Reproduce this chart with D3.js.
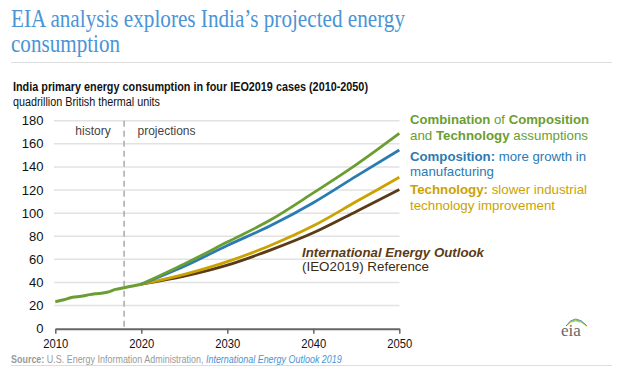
<!DOCTYPE html>
<html><head><meta charset="utf-8">
<script src="https://cdn.jsdelivr.net/npm/d3@7"></script>
<style>body{margin:0;background:#fff}svg{display:block}</style>
</head><body>
<svg id="c" width="639" height="369"></svg>
<script>
// ---- data ----
const historyYears = [2010,2011,2012,2013,2014,2015,2016,2017,2018,2019,2020];
const historyValues = [23.4,25,27.3,28,29.5,30.5,31.5,34,35.5,37,38.5];
const projYears = [2020,2025,2030,2035,2040,2045,2050];
const reference = [38.5,45.5,55,68,83,101.5,120.5];
const technology = [38.5,47,58,72,89,110,131];
const composition = [38.5,54,72,89,109,132,154.6];
const combination = [38.5,56,75,94,117.5,142,169];
const yTicks = [0,20,40,60,80,100,120,140,160,180];
const xTicks = [2010,2020,2030,2040,2050];

const C = {green:"#6a9e31", blue:"#2b7bb3", gold:"#cca200", brown:"#5b3b15"};

const svg = d3.select("#c");
const x = d3.scaleLinear().domain([2010,2050]).range([55.3,399.3]);
const y = d3.scaleLinear().domain([0,180]).range([328.7,120.7]);

// title
svg.append("text").attr("x",11).attr("y",27).attr("font-family","Liberation Serif, Times New Roman, serif")
  .attr("font-size",25).attr("fill","#4a94d6").attr("textLength",394).attr("lengthAdjust","spacingAndGlyphs")
  .text("EIA analysis explores India’s projected energy");
svg.append("text").attr("x",11).attr("y",52).attr("font-family","Liberation Serif, Times New Roman, serif")
  .attr("font-size",25).attr("fill","#4a94d6").attr("textLength",109).attr("lengthAdjust","spacingAndGlyphs")
  .text("consumption");
svg.append("line").attr("x1",11).attr("x2",612).attr("y1",62.5).attr("y2",62.5).attr("stroke","#ddd").attr("stroke-width",1);

const sans = "Liberation Sans, Arial, sans-serif";
svg.append("text").attr("x",13).attr("y",91).attr("font-family",sans).attr("font-weight","bold").attr("font-size",12.5)
  .attr("fill","#111").attr("textLength",355).attr("lengthAdjust","spacingAndGlyphs")
  .text("India primary energy consumption in four IEO2019 cases (2010-2050)");
svg.append("text").attr("x",13).attr("y",105.5).attr("font-family",sans).attr("font-size",12.5)
  .attr("fill","#111").attr("textLength",147).attr("lengthAdjust","spacingAndGlyphs")
  .text("quadrillion British thermal units");

// grid
svg.append("g").selectAll("line").data(yTicks.filter(d=>d>0)).join("line")
  .attr("x1",54).attr("x2",399.5).attr("y1",d=>y(d)).attr("y2",d=>y(d))
  .attr("stroke","#e2e2e2").attr("stroke-width",1.5);

// y labels
svg.append("g").selectAll("text").data(yTicks).join("text")
  .attr("x",43.5).attr("y",d=>y(d)+4.5).attr("text-anchor","end")
  .attr("font-family",sans).attr("font-size",13).attr("fill","#111").text(d=>d);

// x axis
const xAxis = d3.axisBottom(x).tickValues(xTicks).tickFormat(d3.format("d")).tickSize(5).tickSizeOuter(0);
const gx = svg.append("g").attr("transform",`translate(0,${y(0)})`).call(xAxis);
gx.select(".domain").attr("stroke","#666").attr("stroke-width",2);
gx.selectAll(".tick line").attr("stroke","#666").attr("stroke-width",1.5);
gx.selectAll(".tick text").attr("font-family",sans).attr("font-size",13.5).attr("fill","#111")
  .attr("y",7).attr("dy","0.9em").attr("textLength",25).attr("lengthAdjust","spacingAndGlyphs");

// dashed history line
svg.append("line").attr("x1",x(2018)).attr("x2",x(2018)).attr("y1",y(180)).attr("y2",y(0))
  .attr("stroke","#aaa").attr("stroke-width",1.5).attr("stroke-dasharray","6,4");
svg.append("text").attr("x",93).attr("y",135).attr("text-anchor","middle").attr("font-family",sans).attr("font-size",12)
  .attr("fill","#444").text("history");
svg.append("text").attr("x",137.5).attr("y",135).attr("font-family",sans).attr("font-size",12)
  .attr("fill","#444").text("projections");

// lines
const line = d3.line().x(d=>x(d[0])).y(d=>y(d[1])).curve(d3.curveMonotoneX);
const series = [
  {vals:reference,color:C.brown},
  {vals:technology,color:C.gold},
  {vals:composition,color:C.blue},
  {vals:combination,color:C.green}
];
series.forEach(s=>{
  svg.append("path").datum(d3.zip(projYears,s.vals)).attr("d",line)
    .attr("fill","none").attr("stroke",s.color).attr("stroke-width",2.8).attr("stroke-linejoin","round");
});
svg.append("path").datum(d3.zip(historyYears,historyValues)).attr("d",line)
  .attr("fill","none").attr("stroke",C.green).attr("stroke-width",3).attr("stroke-linejoin","round");

// labels
function label(xp, yp, parts, color, len){
  const t = svg.append("text").attr("x",xp).attr("y",yp).attr("font-family",sans).attr("font-size",13).attr("fill",color);
  if(len) t.attr("textLength",len).attr("lengthAdjust","spacingAndGlyphs");
  parts.forEach(p=>{
    const ts=t.append("tspan").text(p[0]);
    if(p[1]) ts.attr("font-weight","bold");
    if(p[2]) ts.attr("font-style","italic");
  });
}
label(410,124,[["Combination",1],[" of "],["Composition",1]],C.green,179);
label(410,139.5,[["and "],["Technology",1],[" assumptions"]],C.green,178);
label(410,161,[["Composition:",1],[" more growth in"]],C.blue,176);
label(410,175.5,[["manufacturing"]],C.blue,84);
label(410,193.5,[["Technology:",1],[" slower industrial"]],C.gold,177);
label(410,209.5,[["technology improvement"]],C.gold,145);
label(302,256.5,[["International Energy Outlook",1,1]],C.brown,182);
label(302,271,[["(IEO2019) Reference"]],"#3a2a10",127);

// eia logo
const lg = svg.append("g");
lg.append("text").attr("x",561).attr("y",336).attr("font-family","Liberation Serif, Times New Roman, serif")
  .attr("font-size",17).attr("fill","#666").text("eia");
const arc = (r,col)=>lg.append("path").attr("d",`M${566} ${326} Q ${575} ${316-r} ${587} ${326}`)
  .attr("fill","none").attr("stroke",col).attr("stroke-width",1);
arc(0,"#f0c020"); arc(2,"#8bbf3f"); arc(4,"#3a9ad9");

// source: one text, condensed horizontally to the reference width
const src = svg.append("text").attr("font-family",sans).attr("font-size",10.5).attr("fill","#9a9a9a");
src.append("tspan").attr("font-weight","bold").text("Source:");
src.append("tspan").text(" U.S. Energy Information Administration, ");
src.append("tspan").attr("font-style","italic").attr("fill","#4a94d6").text("International Energy Outlook 2019");
const sw = src.node().getComputedTextLength() || 395;
src.attr("transform",`translate(11,362.5) scale(${331/sw},1)`);
svg.append("line").attr("x1",11).attr("x2",612).attr("y1",365.5).attr("y2",365.5).attr("stroke","#ddd");
</script>
</body></html>
